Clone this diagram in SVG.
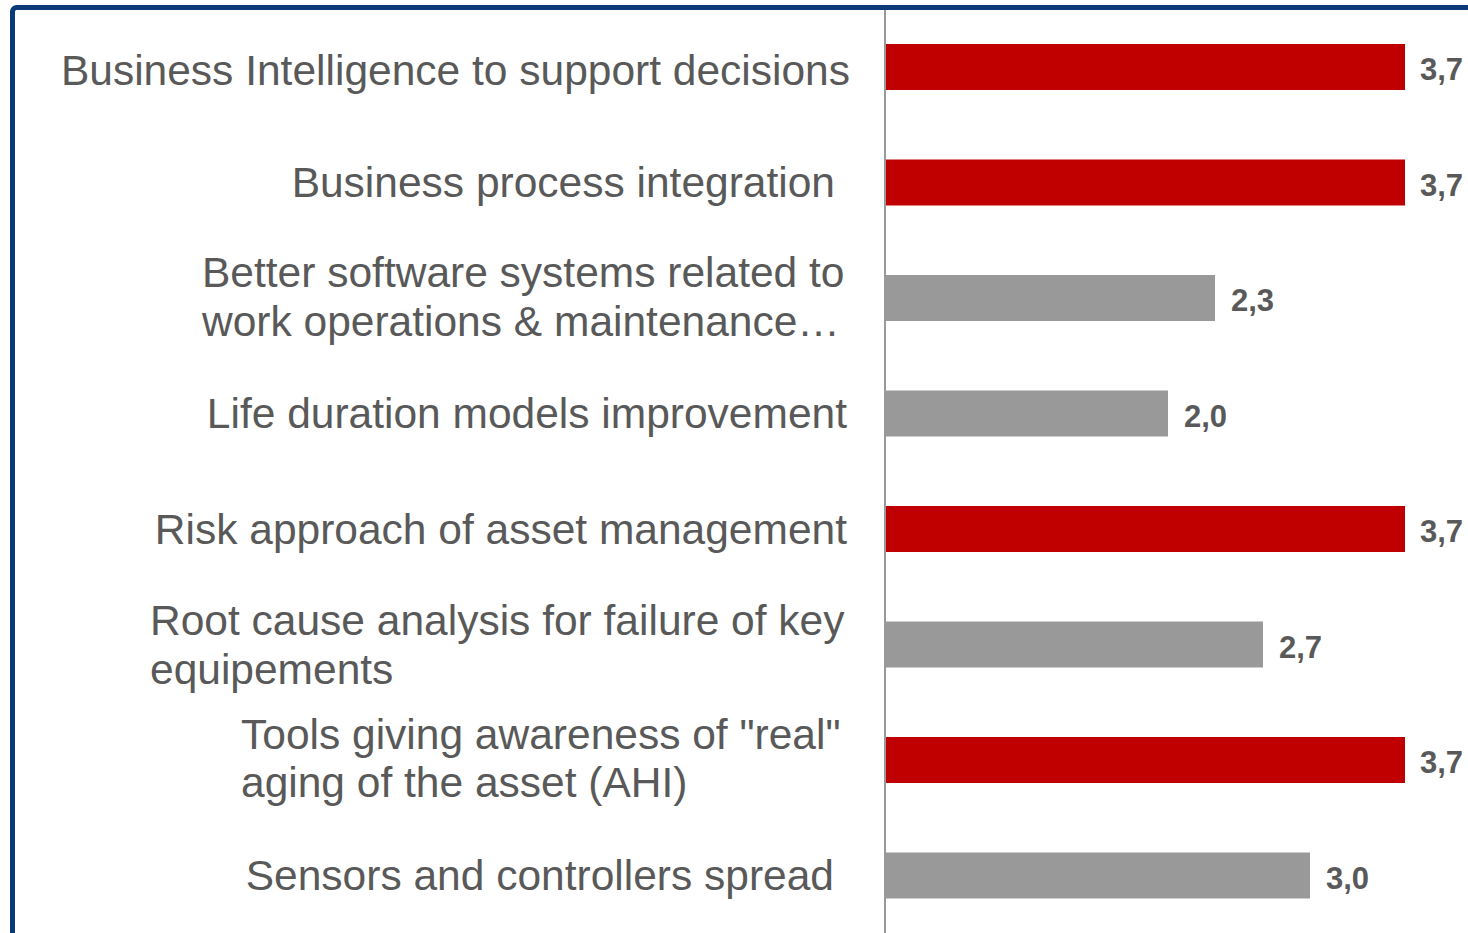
<svg xmlns="http://www.w3.org/2000/svg" width="1468" height="933" viewBox="0 0 1468 933">
<style>
.lbl{font-family:"Liberation Sans",Arial,sans-serif;font-size:42.5px;fill:#595959}
.val{font-family:"Liberation Sans",Arial,sans-serif;font-size:31px;font-weight:bold;fill:#595959}
.red{fill:#c00000}
.gray{fill:#999999}
</style>
<rect x="0" y="0" width="1468" height="933" fill="#ffffff"/>
<rect id="frame" x="12.5" y="7.5" width="1480" height="950" rx="4" fill="none" stroke="#0b3a78" stroke-width="5"/>
<g id="axis"><line x1="885" y1="10" x2="885" y2="933" stroke="#999999" stroke-width="2"/></g>

<g id="row1">
<text class="lbl" x="850" y="85" text-anchor="end">Business Intelligence to support decisions</text>
<rect class="red" x="886" y="44" width="519" height="46"/>
<text class="val" x="1420" y="80">3,7</text>
</g>
<g id="row2">
<text class="lbl" x="835" y="197" text-anchor="end">Business process integration</text>
<rect class="red" x="886" y="159.5" width="519" height="46"/>
<text class="val" x="1420" y="195.5">3,7</text>
</g>
<g id="row3">
<text class="lbl" x="202" y="287">Better software systems related to</text>
<text class="lbl" x="202" y="336">work operations &amp; maintenance…</text>
<rect class="gray" x="886" y="275" width="329" height="46"/>
<text class="val" x="1231" y="311">2,3</text>
</g>
<g id="row4">
<text class="lbl" x="847" y="428" text-anchor="end">Life duration models improvement</text>
<rect class="gray" x="886" y="390.5" width="282" height="46"/>
<text class="val" x="1184" y="426.5">2,0</text>
</g>
<g id="row5">
<text class="lbl" x="847" y="544" text-anchor="end">Risk approach of asset management</text>
<rect class="red" x="886" y="506" width="519" height="46"/>
<text class="val" x="1420" y="542">3,7</text>
</g>
<g id="row6">
<text class="lbl" x="150" y="635">Root cause analysis for failure of key</text>
<text class="lbl" x="150" y="684">equipements</text>
<rect class="gray" x="886" y="621.5" width="377" height="46"/>
<text class="val" x="1279" y="657.5">2,7</text>
</g>
<g id="row7">
<text class="lbl" x="241" y="749">Tools giving awareness of "real"</text>
<text class="lbl" x="241" y="797">aging of the asset (AHI)</text>
<rect class="red" x="886" y="737" width="519" height="46"/>
<text class="val" x="1420" y="773">3,7</text>
</g>
<g id="row8">
<text class="lbl" x="834" y="890" text-anchor="end">Sensors and controllers spread</text>
<rect class="gray" x="886" y="852.5" width="424" height="46"/>
<text class="val" x="1326" y="888.5">3,0</text>
</g>
</svg>
